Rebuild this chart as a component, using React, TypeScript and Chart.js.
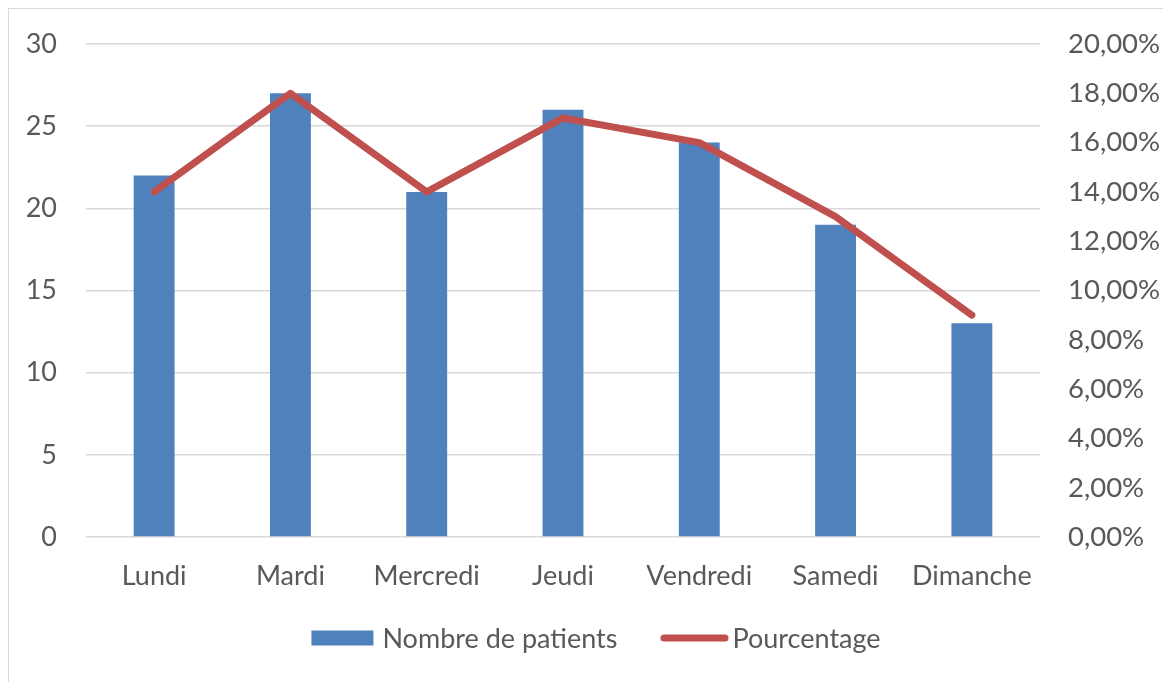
import React, { useEffect, useRef } from "react";
import { Chart, registerables } from "chart.js";

Chart.register(...registerables);

const categories = ["Lundi", "Mardi", "Mercredi", "Jeudi", "Vendredi", "Samedi", "Dimanche"];
const patients = [22, 27, 21, 26, 24, 19, 13];
const pourcentage = [14, 18, 14, 17, 16, 13, 9];
const seriesLabels = ["Nombre de patients", "Pourcentage"];

const FONT = "Lato";
const FONT_SIZE = 27;
const TEXT = "#595959";
const BLUE = "#4F81BD";
const RED = "#C0504D";
const GRID = "#d9d9d9";

const CANVAS_W = 1162;
const CANVAS_H = 673;

const legendPlugin = {
  id: "customLegend",
  afterDraw(chart: any) {
    const ctx = chart.ctx;
    const ds = chart.data.datasets;
    ctx.save();
    ctx.font = `${FONT_SIZE}px ${FONT}`;
    ctx.textBaseline = "middle";
    ctx.textAlign = "left";
    const y = 629;
    const barW = 62, barH = 15, lineW = 68, lineT = 7;
    const gapBar = 9, gapLine = 4, itemGap = 43;
    const t0 = ctx.measureText(ds[0].label).width;
    const t1 = ctx.measureText(ds[1].label).width;
    const total = barW + gapBar + t0 + itemGap + lineW + gapLine + t1;
    let x = chart.width / 2 + 6 - total / 2;
    ctx.fillStyle = ds[0].backgroundColor;
    ctx.fillRect(x, y - barH / 2, barW, barH);
    x += barW + gapBar;
    ctx.fillStyle = TEXT;
    ctx.fillText(ds[0].label, x, y + 1);
    x += t0 + itemGap;
    ctx.strokeStyle = ds[1].borderColor;
    ctx.lineWidth = lineT;
    ctx.lineCap = "round";
    ctx.beginPath();
    ctx.moveTo(x + lineT / 2, y);
    ctx.lineTo(x + lineW - lineT / 2, y);
    ctx.stroke();
    x += lineW + gapLine;
    ctx.fillStyle = TEXT;
    ctx.fillText(ds[1].label, x, y + 1);
    ctx.restore();
  },
};

export default function App() {
  const ref = useRef<HTMLCanvasElement>(null);

  useEffect(() => {
    document.documentElement.style.overflow = "hidden";
    document.body.style.overflow = "hidden";
    if (!ref.current) return;
    Chart.defaults.font.family = FONT;
    Chart.defaults.font.size = FONT_SIZE;
    Chart.defaults.color = TEXT;
    const chart = new Chart(ref.current, {
      type: "bar",
      data: {
        labels: categories,
        datasets: [
          {
            type: "bar",
            label: seriesLabels[0],
            data: patients,
            backgroundColor: BLUE,
            borderWidth: 0,
            barPercentage: 0.3,
            categoryPercentage: 1,
            yAxisID: "y",
            order: 1,
          } as any,
          {
            type: "line",
            label: seriesLabels[1],
            data: pourcentage,
            borderColor: RED,
            backgroundColor: RED,
            borderWidth: 7,
            borderCapStyle: "round",
            borderJoinStyle: "round",
            pointRadius: 0,
            tension: 0,
            yAxisID: "y1",
            order: 0,
          } as any,
        ],
      },
      options: {
        responsive: false,
        animation: false,
        devicePixelRatio: 1,
        layout: { padding: { top: 35, bottom: 0, left: 0, right: 0 } },
        plugins: {
          legend: { display: false },
          tooltip: { enabled: false },
        },
        scales: {
          x: {
            grid: { display: false },
            border: { display: false },
            ticks: { padding: 15, color: TEXT, maxRotation: 0 },
            afterFit: (s: any) => {
              s.height = 145;
            },
          },
          y: {
            position: "left",
            min: 0,
            max: 30,
            ticks: { stepSize: 5, padding: 29, color: TEXT },
            grid: { color: GRID, lineWidth: 1.5, drawTicks: false },
            border: { display: false },
            afterFit: (s: any) => {
              s.width = 77;
              s.paddingTop = 0;
              s.paddingBottom = 0;
            },
          },
          y1: {
            position: "right",
            min: 0,
            max: 20,
            ticks: {
              stepSize: 2,
              padding: 28,
              color: TEXT,
              font: { size: 27.5 },
              callback: (v: any) => Number(v).toFixed(2).replace(".", ",") + "%",
            },
            grid: { display: false, drawTicks: false },
            border: { display: false },
            afterFit: (s: any) => {
              s.width = 131;
              s.paddingTop = 0;
              s.paddingBottom = 0;
            },
          },
        },
      },
      plugins: [legendPlugin],
    });
    return () => chart.destroy();
  }, []);

  return (
    <div
      style={{
        marginLeft: -1,
        marginTop: -1,
        borderLeft: `2px solid ${GRID}`,
        borderTop: `2px solid ${GRID}`,
        width: CANVAS_W,
        height: CANVAS_H,
        background: "#fff",
      }}
    >
      <canvas ref={ref} width={CANVAS_W} height={CANVAS_H} style={{ display: "block" }} />
    </div>
  );
}
